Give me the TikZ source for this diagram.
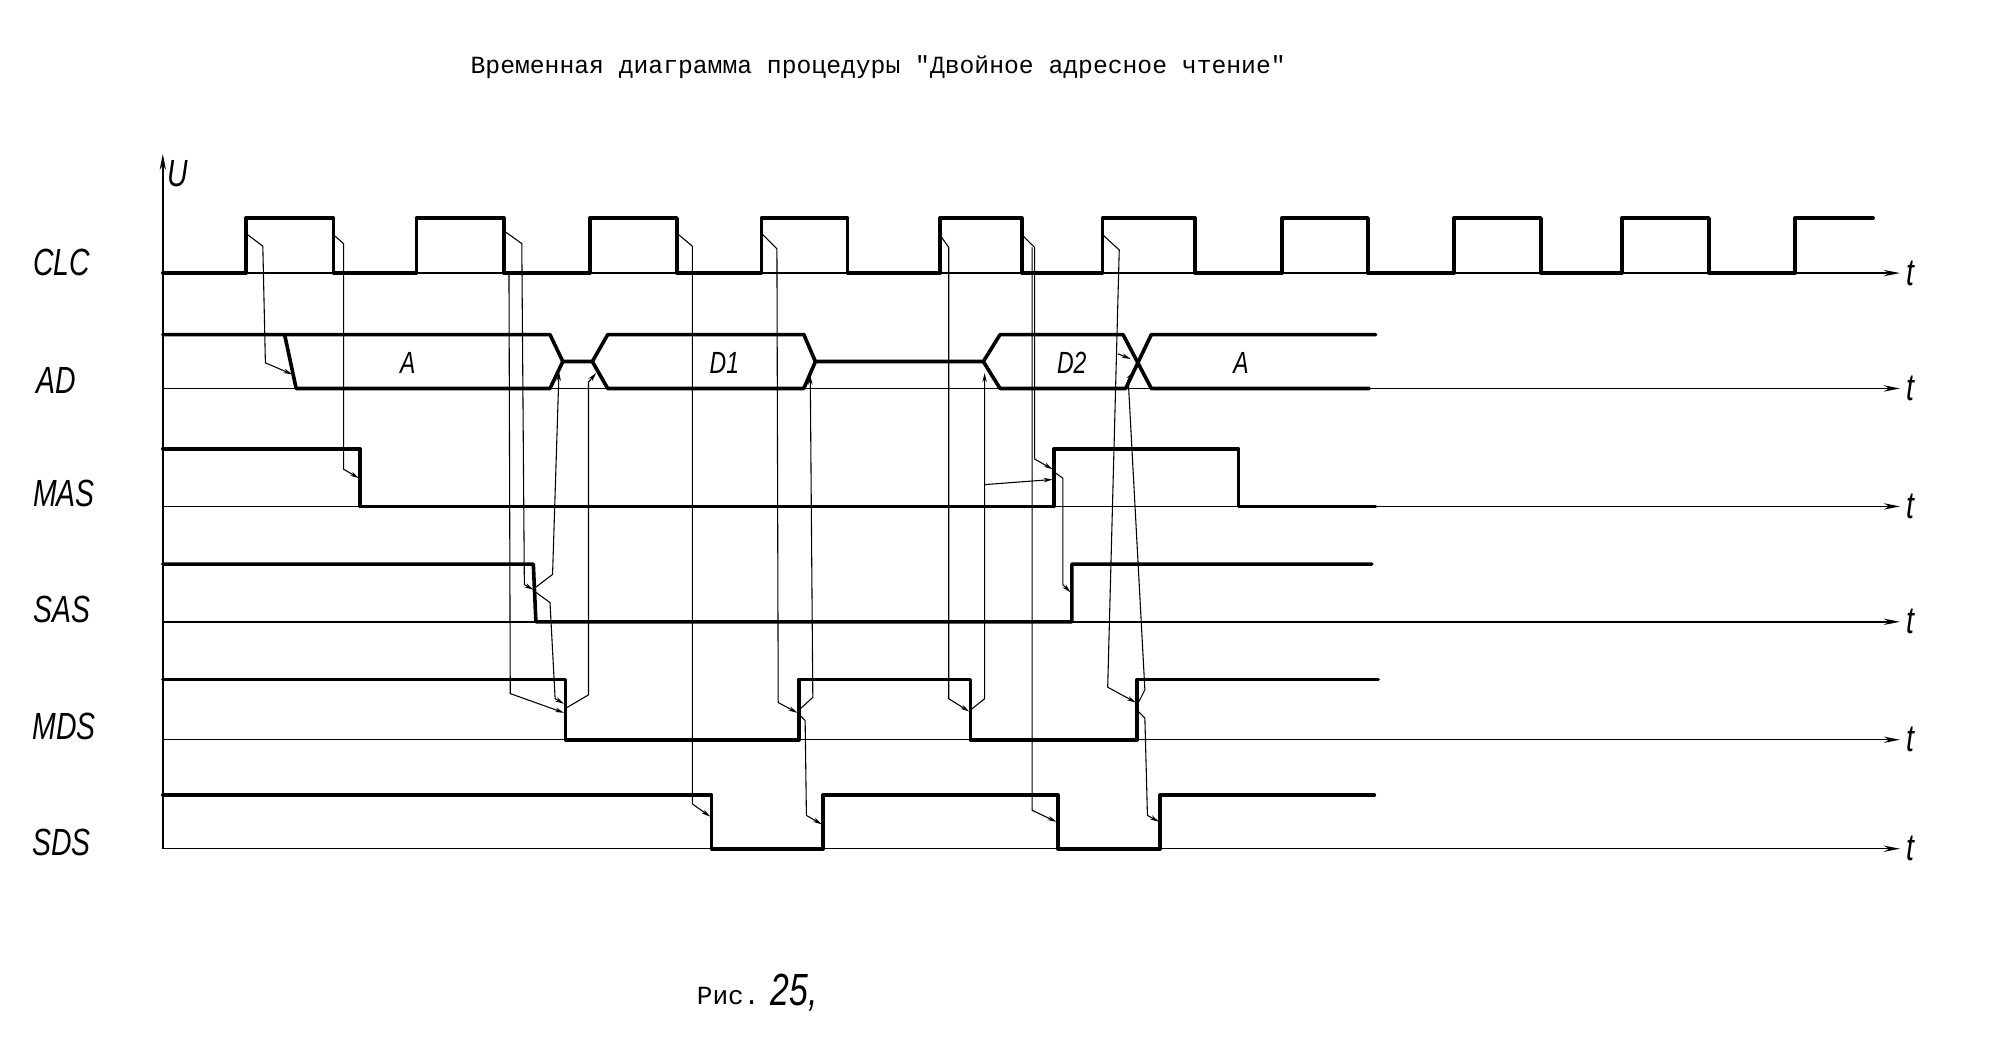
\documentclass[tikz,border=0pt]{standalone}
\usepackage{fontspec}
\setmonofont{Liberation Mono}
\newfontfamily\handfont{Liberation Sans}
\usetikzlibrary{arrows.meta,positioning}
\tikzset{
  sig/.style={line width=2pt,line cap=round,line join=round},
  ax/.style={line width=0.8pt,-{Stealth[length=9pt,width=3.5pt]}},
  lnk/.style={line width=0.6pt,-{Stealth[length=5pt,width=2.5pt]}},
  lbl/.style={font=\handfont\itshape\fontsize{21}{21}\selectfont,xscale=0.75},
  dat/.style={font=\handfont\itshape\fontsize{17}{17}\selectfont,xscale=0.75},
}
\begin{document}
\begin{tikzpicture}[x=0.025cm,y=-0.025cm]
\useasboundingbox (0,0) rectangle (1560,816);
\node [font=\ttfamily\fontsize{13.7}{16}\selectfont] (title) at (685,52)
  {Временная диаграмма процедуры "Двойное адресное чтение"};
% axes
\draw [ax] (127,662) -- (127,120) node [lbl,anchor=north west] {U};
\foreach \y in {213,303,395,485,577,662}
  \draw [ax] (127,\y) -- (1482,\y) node [lbl,right=1pt] {t};
\node [lbl] (clc) at (48,205) {CLC};
\node [lbl] (ad)  at (44,297) {AD};
\node [lbl] (mas) at (50,385) {MAS};
\node [lbl] (sas) at (48,475) {SAS};
\node [lbl] (mds) at (50,567) {MDS};
\node [lbl] (sds) at (48,657) {SDS};
% CLC
\draw [sig] (127,213) foreach \r/\f in {192/260,325/393,460/528,594/661,733/797,
    860/932,1000/1067,1134/1202,1265/1333} { -- (\r,213) -- (\r,170) -- (\f,170) -- (\f,213) }
  -- (1400,213) -- (1400,170) -- (1461,170);
% AD
\draw [sig] (127,261) -- (429,261) -- (439,282) -- (462,282) -- (474,261) -- (627,261)
  -- (636,282) -- (767,282) -- (780,261) -- (876,261) -- (898,303) -- (1068,303);
\draw [sig] (222,261) -- (231,303) -- (429,303) -- (439,282);
\draw [sig] (462,282) -- (474,303) -- (627,303) -- (636,282);
\draw [sig] (767,282) -- (780,303) -- (878,303) -- (898,261) -- (1073,261);
\node [dat] at (318,283) {A};
\node [dat] at (565,283) {D1};
\node [dat] at (836,283) {D2};
\node [dat] at (968,283) {A};
% MAS, SAS, MDS, SDS
\draw [sig] (127,350) -- (281,350) -- (281,395) -- (822,395) -- (822,350) -- (966,350)
  -- (966,395) -- (1073,395);
\draw [sig] (127,440) -- (416,440) -- (418,485) -- (836,485) -- (836,440) -- (1070,440);
\draw [sig] (127,530) -- (441,530) -- (441,577) -- (623,577) -- (623,530) -- (757,530)
  -- (757,577) -- (887,577) -- (887,530) -- (1075,530);
\draw [sig] (127,620) -- (555,620) -- (555,662) -- (642,662) -- (642,620) -- (825,620)
  -- (825,662) -- (905,662) -- (905,620) -- (1072,620);
% links
\draw [lnk] (193,183) -- (205,192) -- (207,283) -- (228,292);
\draw [lnk] (260,183) -- (268,190) -- (268,366) -- (280,373);
\draw [lnk] (393,180) -- (407,190) -- (409,456) -- (416,460);
\draw [lnk] (397,213) -- (398,541) -- (440,556);
\draw [lnk] (418,458) -- (431,448) -- (436,290);
\draw [lnk] (418,462) -- (429,470) -- (433,545) -- (440,549);
\draw [lnk] (442,552) -- (459,542) -- (459,298) -- (465,291);
\draw [lnk] (528,182) -- (540,192) -- (540,627) -- (554,637);
\draw [lnk] (594,182) -- (606,194) -- (607,548) -- (622,556);
\draw [lnk] (624,553) -- (634,544) -- (632,293);
\draw [lnk] (624,558) -- (628,562) -- (629,636) -- (641,643);
\draw [lnk] (733,183) -- (740,193) -- (740,545) -- (756,555);
\draw [lnk] (758,553) -- (768,545) -- (768,291);
\draw [lnk] (768,378) -- (821,374);
\draw [lnk] (797,183) -- (807,193) -- (807,358) -- (821,366);
\draw [lnk] (805,193) -- (805,632) -- (824,641);
\draw [lnk] (822,368) -- (829,373) -- (829,456) -- (835,462);
\draw [lnk] (860,183) -- (873,195) -- (864,536) -- (886,548);
\draw [lnk] (872,276) -- (882,280);
\draw [lnk] (888,548) -- (893,538) -- (880,296) -- (884,290);
\draw [lnk] (888,555) -- (893,560) -- (895,636) -- (904,641);
% caption
\node [font=\ttfamily\fontsize{14.5}{16}\selectfont] (fig) at (568,777) {Рис.};
\node [font=\handfont\itshape\fontsize{25}{25}\selectfont,xscale=0.75,right=0pt of fig,
  yshift=2pt] (num) {25,};
\end{tikzpicture}
\end{document}
